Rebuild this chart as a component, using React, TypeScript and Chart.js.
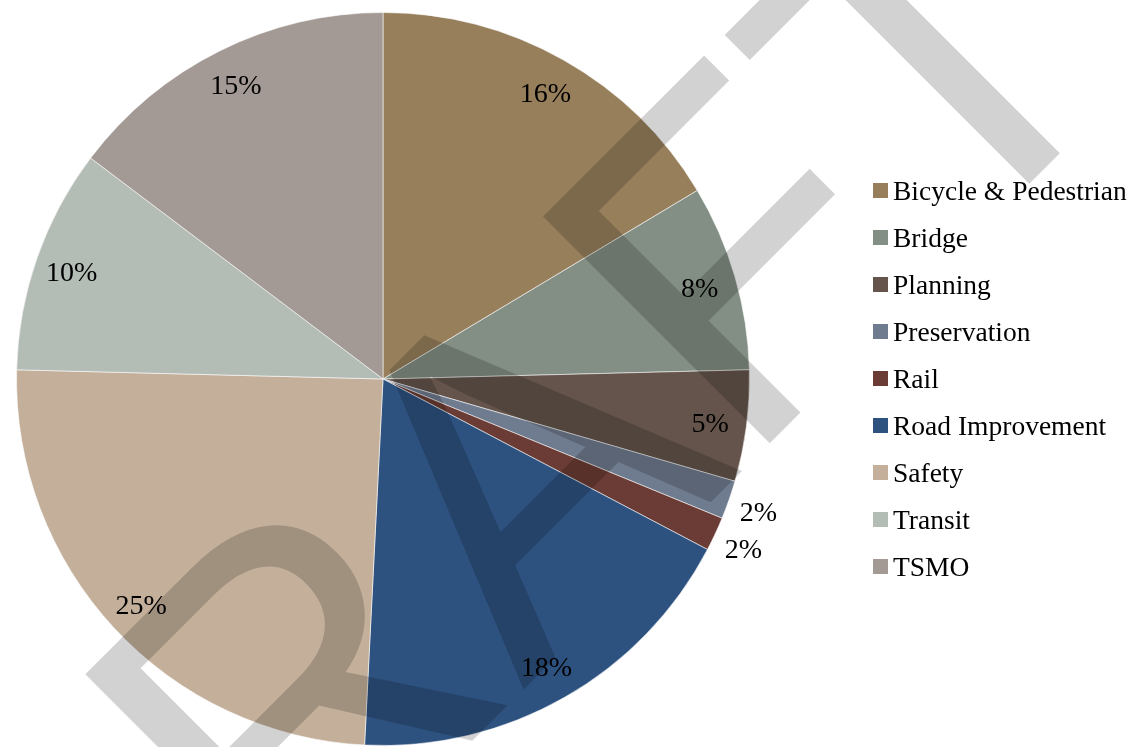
import React, { useEffect, useRef } from 'react';
import { Chart, registerables } from 'chart.js';

Chart.register(...registerables);

const categories = [
  'Bicycle & Pedestrian',
  'Bridge',
  'Planning',
  'Preservation',
  'Rail',
  'Road Improvement',
  'Safety',
  'Transit',
  'TSMO',
];
const shares = [16.4, 8.2, 4.9, 1.7, 1.5, 18.1, 24.6, 9.9, 14.7];
const percentLabels = ['16%', '8%', '5%', '2%', '2%', '18%', '25%', '10%', '15%'];
const sliceColors = [
  '#977F5B',
  '#838F84',
  '#64544B',
  '#6F7B8E',
  '#6B3C35',
  '#2E5280',
  '#C3AF9A',
  '#B4BCB6',
  '#A39A95',
];
const watermarkText = 'DRAFT';

const W = 1132;
const H = 747;
const SERIF = '"Liberation Serif", "Times New Roman", serif';

const labelPlugin = {
  id: 'pieLabels',
  afterDatasetsDraw(chart: any) {
    const ctx = chart.ctx;
    const meta = chart.getDatasetMeta(0);
    ctx.save();
    ctx.font = `28px ${SERIF}`;
    ctx.fillStyle = '#000000';
    ctx.textAlign = 'center';
    ctx.textBaseline = 'middle';
    meta.data.forEach((arc: any, i: number) => {
      const p = arc.getProps(['startAngle', 'endAngle', 'outerRadius', 'x', 'y'], true);
      const mid = (p.startAngle + p.endAngle) / 2;
      const small = shares[i] < 3;
      const r = p.outerRadius * (small ? 1.085 : 0.9);
      ctx.fillText(percentLabels[i], p.x + Math.cos(mid) * r, p.y + Math.sin(mid) * r + 3);
    });
    ctx.restore();
  },
};

const watermarkPlugin = {
  id: 'watermark',
  afterDraw(chart: any) {
    const ctx = chart.ctx;
    ctx.save();
    ctx.translate(47, 1166);
    ctx.rotate((-45 * Math.PI) / 180);
    ctx.font = `466px "Liberation Sans", Arial, sans-serif`;
    ctx.fillStyle = 'rgba(0,0,0,0.175)';
    ctx.textAlign = 'left';
    ctx.textBaseline = 'alphabetic';
    ctx.fillText(watermarkText, 0, 0);
    ctx.restore();
  },
};

export default function App() {
  const canvasRef = useRef<HTMLCanvasElement | null>(null);

  useEffect(() => {
    if (!canvasRef.current) return;
    const chart = new Chart(canvasRef.current, {
      type: 'pie',
      data: {
        labels: categories,
        datasets: [
          {
            data: shares,
            backgroundColor: sliceColors,
            borderColor: 'rgba(255,255,255,0.55)',
            borderWidth: 1,
          },
        ],
      },
      options: {
        responsive: false,
        animation: false,
        devicePixelRatio: 1,
        layout: { padding: { left: 16, right: W - 750, top: 12, bottom: 1 } },
        plugins: {
          legend: { display: false },
          tooltip: { enabled: false },
        },
      },
      plugins: [labelPlugin, watermarkPlugin],
    });
    return () => chart.destroy();
  }, []);

  return (
    <div style={{ position: 'absolute', left: 0, top: 0, width: W, height: H, background: '#fff', overflow: 'hidden' }}>
      <canvas ref={canvasRef} width={W} height={H} style={{ position: 'absolute', left: 0, top: 0, width: W, height: H }} />
      <div style={{ position: 'absolute', left: 873, top: 167, fontFamily: SERIF, fontSize: 27.5, color: '#000' }}>
        {categories.map((c, i) => (
          <div key={c} style={{ height: 47, display: 'flex', alignItems: 'center', whiteSpace: 'nowrap' }}>
            <span style={{ display: 'inline-block', width: 15, height: 15, background: sliceColors[i], marginRight: 5 }} />
            <span>{c}</span>
          </div>
        ))}
      </div>
    </div>
  );
}
